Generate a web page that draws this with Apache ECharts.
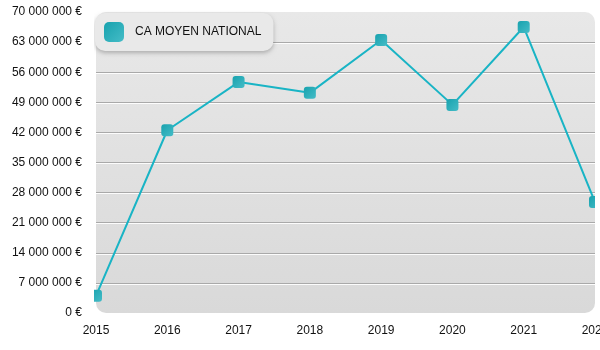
<!DOCTYPE html>
<html>
<head>
<meta charset="utf-8">
<script src="https://cdn.jsdelivr.net/npm/echarts@6/dist/echarts.min.js"></script>
<style>
  html, body { margin: 0; padding: 0; background: #fff; }
  #chart { width: 600px; height: 350px; }
</style>
</head>
<body>
<div id="chart"></div>
<script>
// Yearly average turnover (national)
const years = ['2015', '2016', '2017', '2018', '2019', '2020', '2021', '2022'];
const caMoyen = [4000000, 42500000, 53700000, 51200000, 63500000, 48400000, 66500000, 25800000];
const seriesName = 'CA MOYEN NATIONAL';
const yMax = 70000000;
const yStep = 7000000;

// Plot frame
const W = 600, H = 350;
const gLeft = 96, gRight = 5, gTop = 12, gBottom = 37;
const gWidth = W - gLeft - gRight;
const gHeight = H - gTop - gBottom;

const teal = '#19b4c5';
const markerFill = new echarts.graphic.LinearGradient(0, 0, 1, 1, [
  { offset: 0, color: '#18a2ae' },
  { offset: 1, color: '#45bcc7' }
]);

// Split lines: hide the ones on the frame edges (0 and max)
const nLines = Math.round(yMax / yStep) + 1;
const splitColors = [];
for (let i = 0; i < nLines; i++) {
  splitColors.push(i === 0 || i === nLines - 1 ? 'rgba(0,0,0,0)' : '#a9a9a9');
}

function euro(v) {
  return String(v).replace(/\B(?=(\d{3})+(?!\d))/g, ' ') + ' €';
}

const chart = echarts.init(document.getElementById('chart'), null, { renderer: 'canvas' });
chart.setOption({
  animation: false,
  backgroundColor: '#ffffff',
  textStyle: { fontFamily: 'Liberation Sans, Arial, sans-serif' },
  grid: {
    left: gLeft, right: gRight, top: gTop, bottom: gBottom,
    containLabel: false,
    outerBoundsMode: 'none'
  },
  graphic: [
    {
      type: 'rect', z: -1, silent: true,
      shape: { x: gLeft, y: gTop, width: gWidth, height: gHeight, r: 10 },
      style: {
        fill: new echarts.graphic.LinearGradient(0, 0, 0, 1, [
          { offset: 0, color: '#e8e8e8' },
          { offset: 1, color: '#d9d9d9' }
        ])
      }
    },
    {
      type: 'rect', z: 100, silent: true,
      shape: { x: gLeft - 10, y: 0, width: 8, height: gTop + gHeight },
      style: { fill: '#ffffff' }
    },
    {
      type: 'rect', z: 100, silent: true,
      shape: { x: gLeft + gWidth, y: 0, width: gRight + 2, height: gTop + gHeight },
      style: { fill: '#ffffff' }
    }
  ],
  legend: {
    left: gLeft - 1,
    top: 13,
    orient: 'horizontal',
    padding: [9, 12, 9, 9],
    itemWidth: 20,
    itemHeight: 20,
    icon: 'roundRect',
    backgroundColor: '#e9e9e9',
    borderRadius: 10,
    shadowColor: 'rgba(0,0,0,0.25)',
    shadowBlur: 4,
    shadowOffsetY: 2,
    textStyle: { fontSize: 12, color: '#111', padding: [0, 0, 0, 6], fontFamily: 'Liberation Sans, Arial, sans-serif' },
    itemStyle: { color: markerFill },
    data: [seriesName],
    z: 50
  },
  xAxis: {
    type: 'category',
    data: years,
    boundaryGap: false,
    axisLine: { show: false },
    axisTick: { show: false },
    axisLabel: { color: '#111', fontSize: 12, margin: 12 },
    splitLine: { show: false }
  },
  yAxis: {
    type: 'value',
    min: 0,
    max: yMax,
    interval: yStep,
    axisLine: { show: false },
    axisTick: { show: false },
    axisLabel: { color: '#111', fontSize: 12, margin: 14, formatter: euro },
    splitLine: {
      show: true,
      lineStyle: {
        color: splitColors,
        width: 1,
        shadowColor: 'rgba(255,255,255,0.9)',
        shadowOffsetY: 1,
        shadowBlur: 0
      }
    }
  },
  series: [{
    name: seriesName,
    type: 'line',
    data: caMoyen,
    symbol: 'roundRect',
    symbolSize: 12,
    showSymbol: true,
    clip: false,
    lineStyle: { color: teal, width: 2 },
    itemStyle: { color: markerFill, borderWidth: 0 },
    z: 10
  }]
});
</script>
</body>
</html>
